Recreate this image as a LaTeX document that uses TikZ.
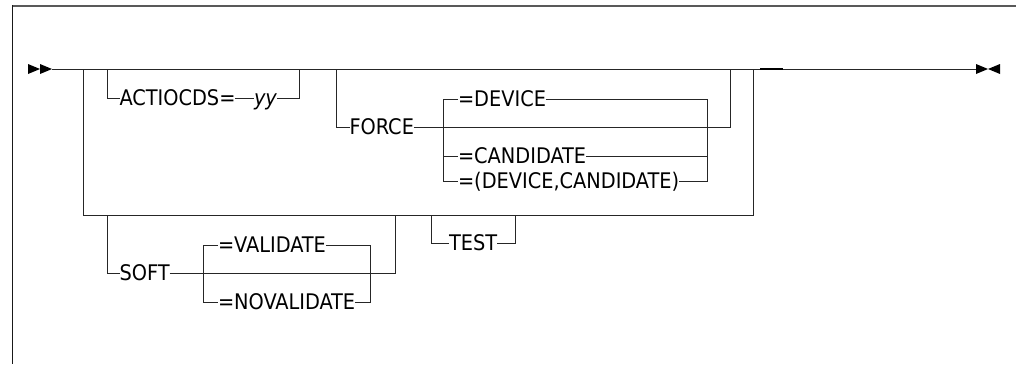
\documentclass[tikz,border=0pt]{standalone}
\usepackage{fontspec}
\setmainfont{DejaVu Sans Condensed}
\begin{document}
\begin{tikzpicture}[x=1pt,y=-1pt,
  lbl/.style={inner sep=0pt, outer sep=0pt, text height=15.7pt, text depth=0pt, anchor=west, font=\fontsize{21.5}{26}\selectfont},
  rail/.style={draw=black!85, line width=1pt},
  tip/.style={fill=black}]
\useasboundingbox (0,0) rectangle (1016,364);
% frame
\draw[black!65, line width=2pt] (12.7,6) -- (1016,6);
\draw[black!90, line width=1.3pt] (12.7,5) -- (12.7,364);
% labels
\node[lbl] (act) at (119.5,98) {ACTIOCDS=};
\node[lbl, font=\fontsize{21.5}{26}\selectfont\itshape] (yy) at (254,98) {yy};
\node[lbl] (force) at (349.5,127) {FORCE};
\node[lbl] (dev) at (458,99) {=DEVICE};
\node[lbl] (cand) at (458,156) {=CANDIDATE};
\node[lbl] (devcand) at (458,181) {=(DEVICE,CANDIDATE)};
\node[lbl] (soft) at (119.5,273) {SOFT};
\node[lbl] (val) at (218,245) {=VALIDATE};
\node[lbl] (noval) at (218,302) {=NOVALIDATE};
\node[lbl] (test) at (449,243) {TEST};
% main line
\coordinate (s) at (52,69);
\coordinate (e) at (976,69);
\draw[rail] (s) -- (e);
\draw[black, line width=1.8pt] (760,69) -- (783,69);
% big loop
\coordinate (bl) at (83,69);
\coordinate (br) at (753,69);
\draw[rail] (bl) -- (83,215) -- (753,215) -- (br);
% ACTIOCDS
\draw[rail] (107,69) |- (act.west);
\draw[rail] (act.east) -- (yy.west);
\draw[rail] (yy.east) -| (299,69);
% FORCE
\draw[rail] (336,69) |- (force.west);
\draw[rail] (force.east) -| (730,69);
\draw[rail] (dev.west) -| (443,181) -- (devcand.west);
\draw[rail] (443,156) -- (cand.west);
\draw[rail] (dev.east) -| (707,181) -- (devcand.east);
\draw[rail] (cand.east) -- (707,156);
% SOFT
\draw[rail] (107,215) |- (soft.west);
\draw[rail] (soft.east) -| (395,215);
\draw[rail] (val.west) -| (203,302) -- (noval.west);
\draw[rail] (val.east) -| (370,302) -- (noval.east);
% TEST
\draw[rail] (431,215) |- (test.west);
\draw[rail] (test.east) -| (515,215);
% arrowheads
\fill[tip] (28,64) -- (40,69) -- (28,74) -- cycle;
\fill[tip] (40,64) -- (52,69) -- (40,74) -- cycle;
\fill[tip] (976,64) -- (988,69) -- (976,74) -- cycle;
\fill[tip] (1000,64) -- (988,69) -- (1000,74) -- cycle;
\end{tikzpicture}
\end{document}
